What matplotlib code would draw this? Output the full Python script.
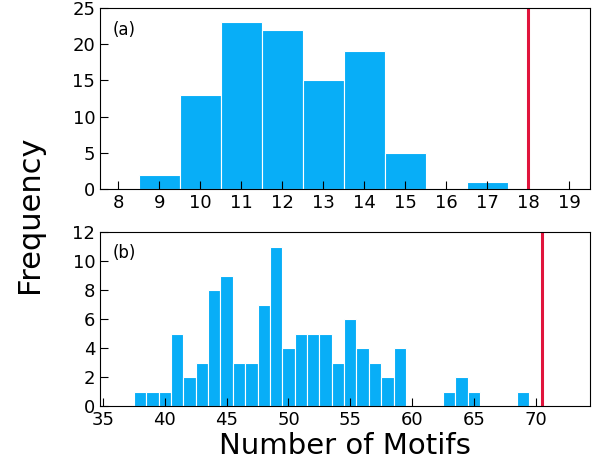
import matplotlib.pyplot as plt
import numpy as np

# panel (a): motif counts and frequencies
a_counts = [9, 10, 11, 12, 13, 14, 15, 17]
a_freq = [2, 13, 23, 22, 15, 19, 5, 1]
a_observed = 18

# panel (b)
b_counts = [38, 39, 40, 41, 42, 43, 44, 45, 46, 47, 48, 49, 50, 51, 52, 53,
            54, 55, 56, 57, 58, 59, 63, 64, 65, 69]
b_freq = [1, 1, 1, 5, 2, 3, 8, 9, 3, 3, 7, 11, 4, 5, 5, 5,
          3, 6, 4, 3, 2, 4, 1, 2, 1, 1]
b_observed = 70.5

blue = "#08aef7"
red = "#e0143c"

fig = plt.figure(figsize=(5.93, 4.66), dpi=100)
ax1 = fig.add_axes([100 / 593, 1 - 189 / 466, 490 / 593, 181 / 466])
ax2 = fig.add_axes([100 / 593, 1 - 406 / 466, 490 / 593, 174 / 466])

for ax, x, f, obs in [(ax1, a_counts, a_freq, a_observed),
                      (ax2, b_counts, b_freq, b_observed)]:
    ax.bar(x, f, width=1.0, color=blue, edgecolor="white", linewidth=0.8)
    ax.axvline(obs, color=red, linewidth=2.2)
    ax.tick_params(direction="in", length=6, labelsize=13, top=False, right=False)

ax1.set_xlim(7.55, 19.5)
ax1.set_ylim(0, 25)
ax1.set_xticks(np.arange(8, 20))
ax1.set_yticks(np.arange(0, 26, 5))
ax1.text(0.025, 0.93, "(a)", transform=ax1.transAxes, fontsize=12, va="top")

ax2.set_xlim(34.75, 74.4)
ax2.set_ylim(0, 12)
ax2.set_xticks(np.arange(35, 71, 5))
ax2.set_yticks(np.arange(0, 13, 2))
ax2.text(0.025, 0.93, "(b)", transform=ax2.transAxes, fontsize=12, va="top")
ax2.set_xlabel("Number of Motifs", fontsize=21, labelpad=2)

fig.text(0.05, 0.54, "Frequency", rotation=90, fontsize=22, ha="center", va="center")

fig.savefig("out.png", dpi=100)
